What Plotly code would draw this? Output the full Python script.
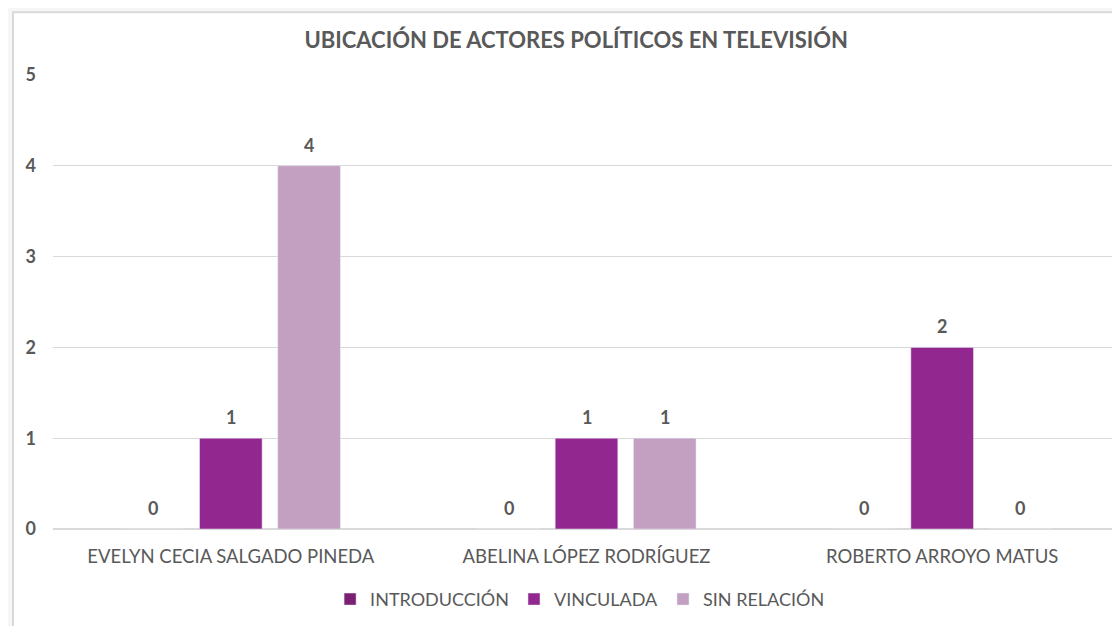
import plotly.graph_objs as go

# data
actores = ['EVELYN CECIA SALGADO PINEDA', 'ABELINA LÓPEZ RODRÍGUEZ', 'ROBERTO ARROYO MATUS']
introduccion = [0, 0, 0]
vinculada = [1, 1, 2]
sin_relacion = [4, 1, 0]

font_name = 'Lato'
gris = '#595959'

series = [('INTRODUCCIÓN', introduccion, '#7B1F72'),
          ('VINCULADA', vinculada, '#92278F'),
          ('SIN RELACIÓN', sin_relacion, '#C39FC1')]

data = [go.Bar(x=actores, y=valores, name=nombre, marker=dict(color=color))
        for nombre, valores, color in series]

# value labels sit a bit higher than plotly's own "outside" text, so use annotations
slot = 78  # pixel width of one bar slot inside a group
etiquetas = []
for i, (nombre, valores, color) in enumerate(series):
    for actor, v in zip(actores, valores):
        etiquetas.append(dict(x=actor, y=v, text='<b>%d</b>' % v, showarrow=False,
                              xshift=(i - 1) * slot, yshift=21, yanchor='middle',
                              font=dict(family=font_name, size=18, color=gris)))

# the page puts the figure 8px in from the top left corner
layout = go.Layout(
    width=1112, height=618,
    margin=dict(l=45, r=0, t=67, b=97),
    paper_bgcolor='#f6f6f6', plot_bgcolor='white',
    title=dict(text='<b>UBICACIÓN DE ACTORES POLÍTICOS EN TELEVISIÓN</b>',
               x=0.511, xanchor='center', y=0.948, yanchor='middle',
               font=dict(family=font_name, size=22, color=gris)),
    barmode='group', bargap=0.34, bargroupgap=0.2,
    xaxis=dict(tickfont=dict(family=font_name, size=18.5, color=gris),
               showline=False, ticks='', ticklabelstandoff=14),
    yaxis=dict(range=[0, 5], dtick=1, gridcolor='#d9d9d9', gridwidth=1,
               zeroline=True, zerolinecolor='#d9d9d9',
               tickfont=dict(family=font_name, size=18, color=gris),
               tickprefix='<b>', ticksuffix='</b>', ticklabelstandoff=16),
    legend=dict(orientation='h', x=0.494, xanchor='center', y=-0.155, yanchor='middle',
                font=dict(family=font_name, size=18, color=gris),
                bgcolor='rgba(0,0,0,0)', traceorder='normal'),
    annotations=etiquetas,
    shapes=[dict(type='rect', xref='paper', yref='paper',
                 x0=-0.0375, x1=1.01, y0=-0.25, y1=1.138,
                 fillcolor='white', line=dict(color='#d9d9d9', width=2), layer='below')],
)

fig = go.Figure(data=data, layout=layout)
fig.write_html('out.html')
